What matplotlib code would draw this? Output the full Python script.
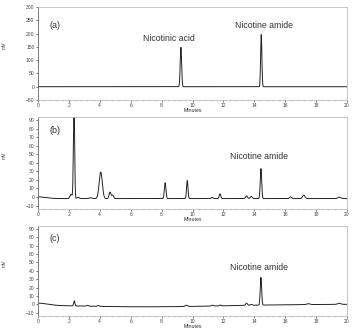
import numpy as np
import matplotlib
matplotlib.use("Agg")
import matplotlib.pyplot as plt
from matplotlib.ticker import MultipleLocator

# ---- data: peak tables (retention time [min], height [mV], sigma [min]) ----
time_ticks = [0, 2, 4, 6, 8, 10, 12, 14, 16, 18, 20]

peaks_a_rt = [9.25, 14.45]
peaks_a_h = [148, 196]
peaks_a_w = [0.045, 0.040]
offset_a = 0.0

peaks_b_rt = [0.0, 2.14, 2.33, 2.6, 3.4, 4.06, 4.66, 4.83, 8.23, 9.66, 11.27, 11.78,
              13.5, 13.8, 14.43, 16.35, 17.2, 19.5]
peaks_b_h = [2.0, 5.0, 110.0, 1.5, 1.0, 31.0, 7.5, 4.0, 18.5, 21.0, 1.5, 5.5,
             3.0, 2.5, 35.0, 2.0, 4.0, 1.5]
peaks_b_w = [0.5, 0.07, 0.04, 0.07, 0.08, 0.1, 0.06, 0.06, 0.05, 0.045, 0.05, 0.05,
             0.06, 0.06, 0.045, 0.06, 0.08, 0.1]
offset_b = -1.8

peaks_c_rt = [0.0, 7.0, 2.35, 3.2, 3.9, 9.6, 11.3, 11.8, 13.5, 13.8, 14.43, 17.5, 19.5]
peaks_c_h = [2.5, -3.0, 6.0, 1.0, 1.0, 1.5, 1.0, 1.0, 2.5, 1.0, 33.0, 1.0, 1.5]
peaks_c_w = [0.6, 5.0, 0.04, 0.06, 0.06, 0.07, 0.06, 0.06, 0.06, 0.06, 0.045, 0.1, 0.1]
offset_c = 0.0

panels = [
    dict(tag="(a)", rt=peaks_a_rt, h=peaks_a_h, w=peaks_a_w, off=offset_a,
         ylim=(-50, 300), yticks=np.arange(-50, 301, 50),
         labels=[("Nicotinic acid", 8.5, 183), ("Nicotine amide", 14.6, 232)],
         tagpos=(1.1, 232)),
    dict(tag="(b)", rt=peaks_b_rt, h=peaks_b_h, w=peaks_b_w, off=offset_b,
         ylim=(-14, 93.5), yticks=np.arange(-10, 91, 10),
         labels=[("Nicotine amide", 14.3, 47)],
         tagpos=(1.1, 78)),
    dict(tag="(c)", rt=peaks_c_rt, h=peaks_c_h, w=peaks_c_w, off=offset_c,
         ylim=(-14, 93.5), yticks=np.arange(-10, 91, 10),
         labels=[("Nicotine amide", 14.3, 44)],
         tagpos=(1.1, 79)),
]

W, H = 361, 329
fig = plt.figure(figsize=(W / 100, H / 100), dpi=100)
plt.rcParams['font.family'] = ['Liberation Sans', 'DejaVu Sans']

boxes = [(7, 100), (117, 209), (226, 316)]  # top, bottom in pixels
left_px, right_px = 38, 347

t = np.linspace(0, 20, 6001)
for p, (top, bot) in zip(panels, boxes):
    ax = fig.add_axes([left_px / W, 1 - bot / H, (right_px - left_px) / W, (bot - top) / H])
    y = np.full_like(t, p["off"])
    for rt, h, w in zip(p["rt"], p["h"], p["w"]):
        y += h * np.exp(-0.5 * ((t - rt) / w) ** 2)
    ax.plot(t, y, color="#222222", lw=0.7)
    ax.set_xlim(0, 20)
    ax.set_ylim(*p["ylim"])
    ax.set_xticks(time_ticks)
    ax.set_yticks(p["yticks"])
    ax.xaxis.set_minor_locator(MultipleLocator(0.4))
    ax.tick_params(axis="both", which="major", labelsize=3.6, length=1.5, width=0.5,
                   colors="#444444", pad=1)
    ax.tick_params(axis="x", which="minor", length=1, width=0.4, colors="#999999")
    for s in ["top", "right", "bottom"]:
        ax.spines[s].set_color("#bbbbbb")
        ax.spines[s].set_linewidth(0.6)
    ax.spines["left"].set_color("#666666")
    ax.spines["left"].set_linewidth(0.6)
    ax.set_xlabel("Minutes", fontsize=3.8, labelpad=0, color="#333333")
    ax.text(*p["tagpos"], p["tag"], fontsize=6.5, color="#333333", ha="center", va="center")
    for txt, x, yy in p["labels"]:
        ax.text(x, yy, txt, fontsize=6.3, color="#333333", ha="center", va="center")
    fig.text(4 / W, 1 - ((top + bot) / 2 - 8) / H, "mV", rotation=90, fontsize=3.6,
             color="#444444", ha="center", va="center")

fig.savefig("out.png", dpi=100)
